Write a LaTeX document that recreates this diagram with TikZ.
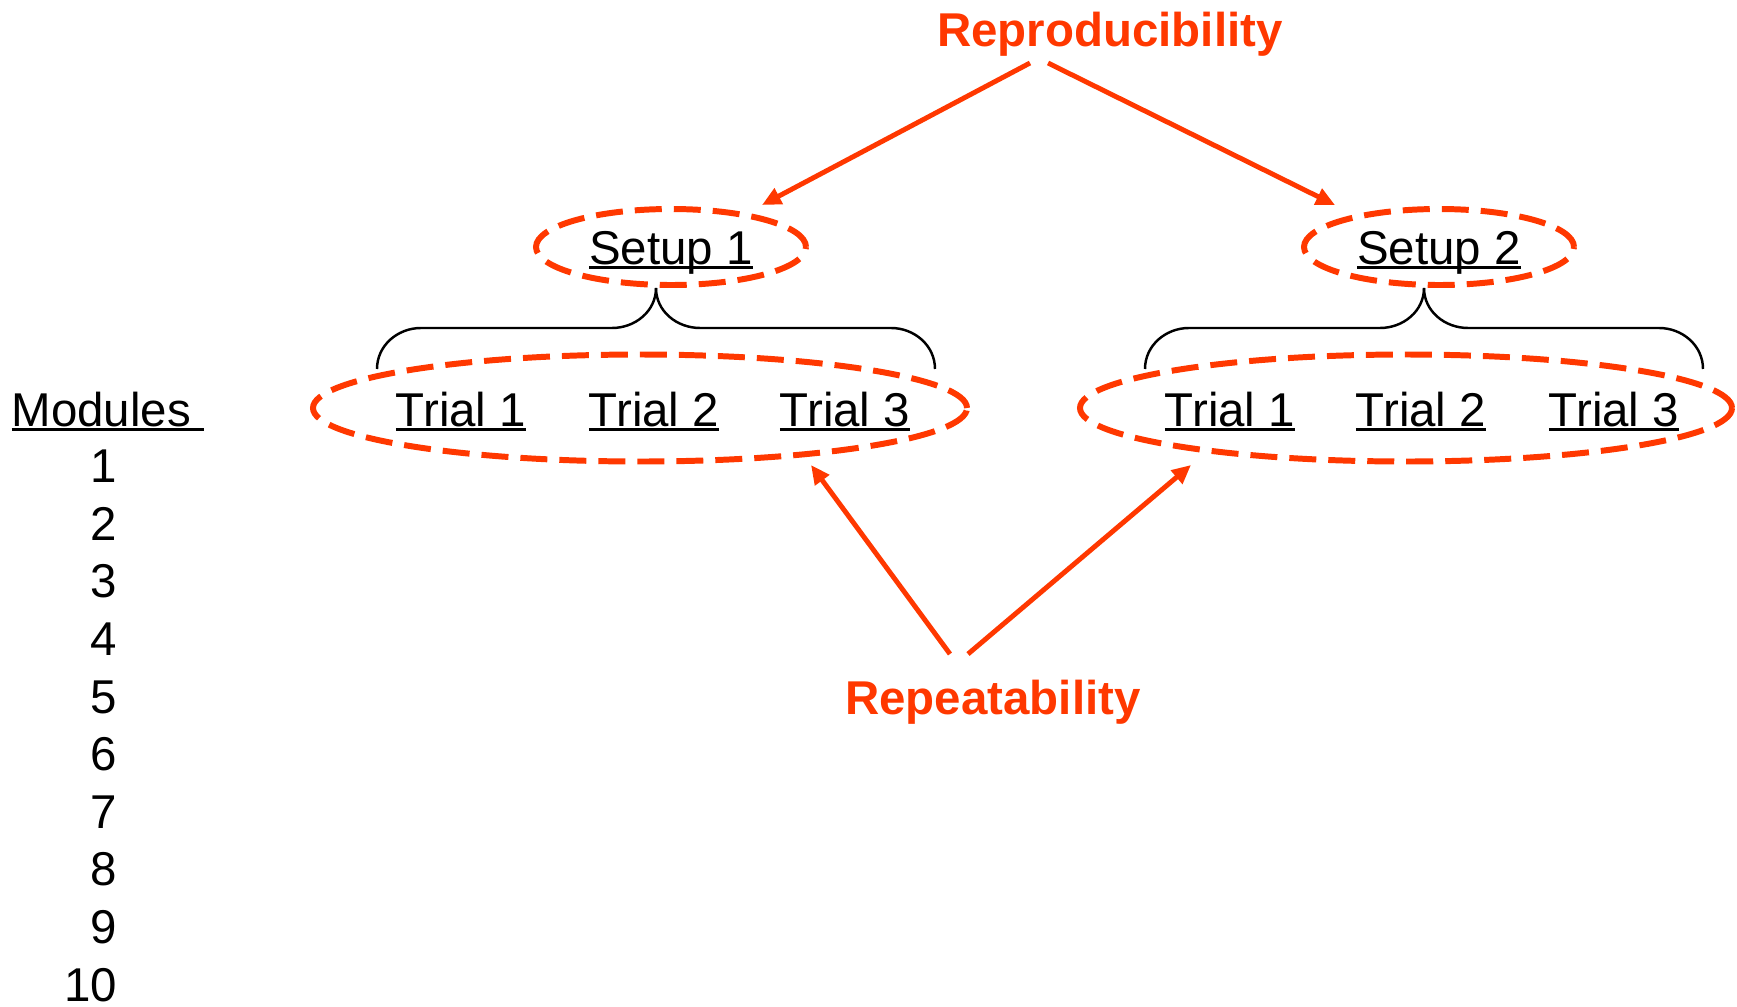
\documentclass[tikz,border=0pt]{standalone}
\usepackage{fontspec}
\setmainfont{Liberation Sans}
\usetikzlibrary{shapes.geometric,arrows.meta}
\definecolor{markred}{RGB}{255,56,0}

% underline at a fixed depth, so it runs through descenders
\newsavebox{\ulbox}
\newcommand{\ulabel}[1]{\sbox{\ulbox}{#1}\rlap{\rule[-0.11em]{\wd\ulbox}{0.07em}}\usebox{\ulbox}}

\tikzset{
  word/.style={inner sep=0pt, text height=0.34cm, text depth=0pt},
  head/.style={inner sep=0pt, text=markred, font=\bfseries},
  ring/.style={word, ellipse, draw=markred, line width=1.7pt, dash pattern=on 0.27cm off 0.12cm},
  pointer/.style={draw=markred, line width=1.4pt, -{Triangle[length=0.19cm,width=0.17cm]}},
  curly/.style={line width=0.7pt}
}

\begin{document}
\fontsize{13.5}{16}\selectfont
\begin{tikzpicture}
\useasboundingbox (0,0) rectangle (17.37,10.06);
%\draw [help lines, color=lightgray] (0,0) grid (17,10);

% module column
\node [word, anchor=base west] (modules) at (0.11,5.80) {\ulabel{Modules\ }};
\foreach \n in {1,...,10}
  \node [word, anchor=base east] (num\n) at (1.18,5.81-0.576*\n) {\n};

% the two setups
\node [ring, minimum width=2.70cm, minimum height=0.76cm] (setupA) at (6.71,7.59) {\ulabel{Setup 1}};
\node [ring, minimum width=2.70cm, minimum height=0.76cm] (setupB) at (14.39,7.59) {\ulabel{Setup 2}};

% trials of each setup
\node [ring, minimum width=6.54cm, minimum height=1.07cm] (trialsA) at (6.40,5.98) {};
\node [ring, minimum width=6.52cm, minimum height=1.07cm] (trialsB) at (14.06,5.98) {};
\foreach \x/\i in {4.61/1,6.54/2,8.45/3}
  \node [word, anchor=base] (trialA\i) at (\x,5.80) {\ulabel{Trial \i}};
\foreach \x/\i in {12.30/1,14.21/2,16.14/3}
  \node [word, anchor=base] (trialB\i) at (\x,5.80) {\ulabel{Trial \i}};

% braces under the setups
\draw [curly] ([xshift=-0.15cm]setupA.south) coordinate (tipA)
  to [out=270,in=0] ++(-0.44,-0.40) -- ++(-1.91,0) to [out=180,in=90] ++(-0.44,-0.41);
\draw [curly] (tipA) to [out=270,in=180] ++(0.44,-0.40) -- ++(1.91,0) to [out=0,in=90] ++(0.44,-0.41);
\draw [curly] ([xshift=-0.15cm]setupB.south) coordinate (tipB)
  to [out=270,in=0] ++(-0.44,-0.40) -- ++(-1.91,0) to [out=180,in=90] ++(-0.44,-0.41);
\draw [curly] (tipB) to [out=270,in=180] ++(0.44,-0.40) -- ++(1.91,0) to [out=0,in=90] ++(0.44,-0.41);

% headings and their arrows
\node [head, anchor=base] (repro) at (11.10,9.60) {Reproducibility};
\node [head, anchor=base] (repeat) at (9.93,2.92) {Repeatability};

\draw [pointer] ([shift={(-0.80,-0.17)}]repro.base) -- ([shift={(0.91,0.42)}]setupA.center);
\draw [pointer] ([shift={(-0.62,-0.17)}]repro.base) -- ([shift={(-1.04,0.42)}]setupB.center);
\draw [pointer] ([shift={(-0.43,0.60)}]repeat.base) -- ([shift={(1.71,-0.57)}]trialsA.center);
\draw [pointer] ([shift={(-0.25,0.60)}]repeat.base) -- ([shift={(-2.15,-0.57)}]trialsB.center);

\end{tikzpicture}
\end{document}
